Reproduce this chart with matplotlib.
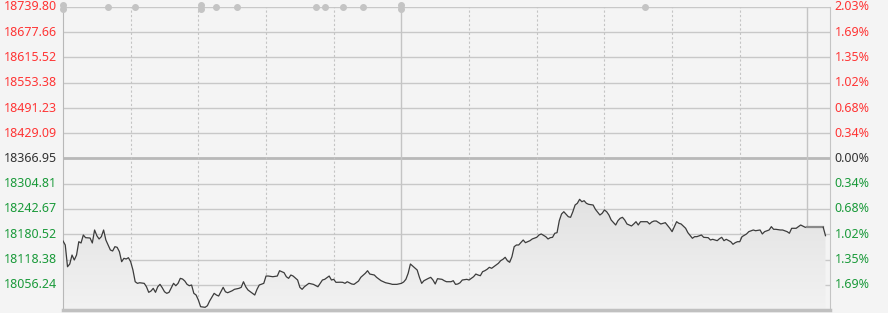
import matplotlib
matplotlib.use('Agg')
import matplotlib.pyplot as plt
import matplotlib.transforms as mtransforms
import numpy as np

# Hang Seng style intraday chart, trading minutes counted from 09:30 (lunch break removed)
prev_close = 18366.95
session_minutes = 340          # 09:30-12:00 + 13:00-16:10
auction_start = 330            # 16:00 closing auction

price_levels = [18739.80, 18677.66, 18615.52, 18553.38, 18491.23, 18429.09, 18366.95,
                18304.81, 18242.67, 18180.52, 18118.38, 18056.24, 17994.10]
pct_labels = ['2.03%', '1.69%', '1.35%', '1.02%', '0.68%', '0.34%', '0.00%',
              '0.34%', '0.68%', '1.02%', '1.35%', '1.69%']

minutes = [0, 1, 2, 3, 4, 5, 6, 7, 8, 9, 10, 12, 13, 14, 15, 16, 17, 18, 19, 20,
           21, 22, 23, 24, 25, 26, 27, 28, 29, 30, 31, 32, 33, 34, 36, 37, 38, 39, 40, 41,
           42, 43, 44, 45, 46, 47, 48, 49, 50, 51, 52, 53, 54, 55, 56, 57, 58, 59, 60, 61,
           63, 64, 65, 67, 68, 69, 71, 72, 73, 75, 76, 78, 79, 80, 81, 82, 84, 85, 86, 87,
           89, 90, 91, 93, 95, 96, 98, 99, 100, 101, 102, 104, 105, 106, 107, 109, 111, 113, 115, 116,
           118, 119, 120, 121, 123, 124, 125, 126, 128, 129, 130, 131, 132, 134, 135, 136, 138, 139, 141, 142,
           143, 145, 146, 148, 150, 151, 152, 153, 154, 155, 157, 158, 159, 160, 162, 163, 164, 165, 166, 168,
           169, 170, 172, 173, 174, 175, 176, 177, 179, 180, 182, 183, 184, 185, 186, 187, 188, 189, 190, 192,
           193, 194, 195, 196, 197, 198, 199, 200, 201, 202, 204, 205, 206, 207, 208, 210, 211, 212, 214, 215,
           216, 217, 218, 219, 220, 221, 222, 224, 225, 226, 227, 228, 229, 230, 231, 232, 233, 235, 236, 238,
           239, 240, 241, 242, 243, 245, 246, 247, 248, 249, 250, 252, 253, 254, 255, 256, 258, 259, 260, 261,
           262, 263, 265, 266, 267, 269, 270, 271, 272, 273, 274, 276, 277, 279, 280, 281, 283, 284, 286, 287,
           288, 290, 291, 292, 293, 294, 296, 297, 298, 299, 300, 301, 303, 304, 306, 307, 309, 310, 311, 313,
           314, 315, 316, 318, 319, 321, 322, 323, 325, 326, 327, 329, 330, 337, 338]
prices = [18163.9, 18154.1, 18100.6, 18107.3, 18129.4, 18117.1, 18129.4, 18162.2, 18159.0, 18178.7,
          18172.1, 18171.3, 18159.0, 18191.0, 18177.0, 18168.9, 18174.6, 18191.0, 18166.4, 18154.1,
          18141.8, 18139.3, 18149.9, 18148.4, 18137.6, 18112.9, 18121.3, 18119.6, 18122.8, 18112.9,
          18092.5, 18063.7, 18059.7, 18061.2, 18059.7, 18051.3, 18037.6, 18040.8, 18047.4, 18037.6,
          18051.3, 18057.2, 18048.9, 18039.0, 18035.1, 18037.6, 18048.9, 18059.7, 18053.8, 18059.7,
          18072.0, 18070.3, 18065.4, 18057.2, 18053.8, 18055.6, 18035.1, 18031.0, 18018.7, 18002.2,
          18000.7, 18004.6, 18016.3, 18035.1, 18031.0, 18028.5, 18049.9, 18039.0, 18036.6, 18041.5,
          18045.0, 18047.4, 18049.9, 18063.7, 18051.3, 18043.3, 18035.1, 18031.0, 18045.0, 18055.6,
          18059.7, 18077.7, 18077.7, 18076.0, 18077.7, 18090.8, 18085.9, 18076.0, 18072.0, 18080.2,
          18077.7, 18067.9, 18049.9, 18045.0, 18051.3, 18059.7, 18057.2, 18051.3, 18067.9, 18069.6,
          18077.7, 18067.9, 18069.6, 18062.2, 18062.5, 18062.2, 18059.7, 18063.7, 18058.1, 18057.2,
          18061.2, 18065.4, 18074.5, 18084.4, 18090.8, 18082.6, 18080.2, 18074.5, 18066.2, 18063.7,
          18061.2, 18058.8, 18057.2, 18057.2, 18059.7, 18063.0, 18069.6, 18084.4, 18107.3, 18102.4,
          18092.5, 18074.5, 18059.7, 18066.2, 18072.0, 18074.5, 18067.9, 18058.1, 18071.1, 18069.6,
          18066.2, 18063.7, 18063.7, 18066.2, 18057.2, 18058.1, 18061.2, 18067.9, 18069.6, 18067.9,
          18076.0, 18082.6, 18080.2, 18078.5, 18088.4, 18090.8, 18094.3, 18099.2, 18096.7, 18104.8,
          18109.0, 18115.4, 18118.8, 18123.8, 18115.4, 18111.5, 18125.2, 18149.9, 18154.1, 18154.1,
          18166.4, 18159.8, 18162.2, 18164.7, 18168.9, 18173.0, 18178.7, 18181.2, 18174.6, 18168.9,
          18172.1, 18173.0, 18182.9, 18184.4, 18214.0, 18230.4, 18236.0, 18223.7, 18222.2, 18236.0,
          18252.5, 18256.7, 18266.5, 18260.6, 18263.1, 18256.7, 18254.2, 18252.5, 18241.9, 18227.9,
          18232.1, 18240.2, 18236.0, 18227.9, 18215.6, 18203.3, 18213.9, 18219.8, 18222.2, 18215.6,
          18205.8, 18200.9, 18205.8, 18211.4, 18203.3, 18211.4, 18211.4, 18211.4, 18205.8, 18210.7,
          18213.1, 18213.1, 18205.8, 18207.5, 18209.0, 18195.2, 18186.9, 18199.2, 18211.4, 18207.5,
          18205.8, 18195.2, 18184.4, 18170.6, 18174.6, 18174.6, 18178.7, 18173.0, 18172.1, 18166.4,
          18168.1, 18164.7, 18169.6, 18173.0, 18164.7, 18168.1, 18162.2, 18155.8, 18159.8, 18162.2,
          18162.2, 18174.6, 18181.2, 18186.9, 18191.0, 18189.2, 18191.0, 18181.2, 18186.9, 18191.0,
          18199.2, 18192.7, 18192.7, 18191.0, 18191.0, 18186.9, 18183.0, 18195.2, 18195.2, 18199.2,
          18203.3, 18197.7, 18197.6, 18197.6, 18177.0]

# news markers along the top edge (minute, number of items)
news_minutes = [0, 20, 32, 61, 68, 77, 112, 116, 124, 133, 150, 258]
news_count = [2, 1, 1, 2, 1, 1, 1, 1, 1, 1, 2, 1]

bg = '#f4f4f4'
red = '#ff3535'
green = '#1a9a3a'
dark = '#333333'

fig = plt.figure(figsize=(8.88, 3.13), dpi=100, facecolor=bg)
ax = fig.add_axes([63 / 888, 3 / 313, 767 / 888, 303 / 313], facecolor=bg)
ymax, ymin = price_levels[0], price_levels[-1]
ax.set_xlim(0, session_minutes)
ax.set_ylim(ymin, ymax)

# horizontal grid
for lv in price_levels[:-1]:
    if lv == prev_close:
        ax.axhline(lv, color='#b8b8b8', lw=2.0, zorder=1)
    else:
        ax.axhline(lv, color='#c8c8c8', lw=1.0, zorder=1)

# vertical grid every 30 minutes, solid at lunch break and 16:00
for m in range(30, session_minutes, 30):
    if m in (150, 330):
        ax.axvline(m, color='#c4c4c4', lw=1.0, zorder=1)
    else:
        ax.axvline(m, color='#c4c4c4', lw=0.8, ls=(0, (2, 2)), zorder=1)

t = np.array(minutes)
p = np.array(prices)

# gradient fill under the line
poly = ax.fill_between(t, p, ymin, facecolor='none', edgecolor='none')
grad = np.linspace(0, 1, 256).reshape(-1, 1)
im = ax.imshow(grad, cmap=matplotlib.colors.LinearSegmentedColormap.from_list(
    'g', ['#f2f2f2', '#e2e2e2']), origin='lower', aspect='auto',
    extent=[0, session_minutes, ymin, p.max()], zorder=2)
im.set_clip_path(poly.get_paths()[0], transform=ax.transData)

main = t <= auction_start
ax.plot(t[main], p[main], color='#3c3c3c', lw=0.9, zorder=3)
auc = t >= auction_start
ax.plot(t[auc][:-1], p[auc][:-1], color='#8a8a8a', lw=1.6, zorder=3)
ax.plot(t[auc][-2:], p[auc][-2:], color='#3c3c3c', lw=0.9, zorder=3)

# news markers
for m, n in zip(news_minutes, news_count):
    offs = [0] if n == 1 else [-2.2, 2.2]
    for o in offs:
        tr = ax.transData + mtransforms.ScaledTranslation(0, o / 72 * 0.72, fig.dpi_scale_trans)
        ax.plot([m], [ymax], marker='o', ms=4, color='#c4c4c4', mec='#c4c4c4',
                transform=tr, clip_on=False, zorder=4)

# axis labels
font = dict(family=['Noto Sans', 'DejaVu Sans'], fontsize=9)
for lv, pl in zip(price_levels[:-1], pct_labels):
    c = red if lv > prev_close else (green if lv < prev_close else dark)
    ax.annotate(f'{lv:.2f}', xy=(0, lv), xycoords=('axes fraction', 'data'),
                xytext=(-4, 0), textcoords='offset points', ha='right', va='center',
                color=c, **font)
    ax.annotate(pl, xy=(1, lv), xycoords=('axes fraction', 'data'),
                xytext=(3.5, 0), textcoords='offset points', ha='left', va='center',
                color=c, **font)

ax.set_xticks([])
ax.set_yticks([])
for s in ['top']:
    ax.spines[s].set_visible(False)
ax.spines['left'].set_color('#b8b8b8')
ax.spines['right'].set_color('#c4c4c4')
ax.spines['bottom'].set_color('#c0c0c0')
ax.spines['bottom'].set_linewidth(2.5)

fig.savefig('out.png', dpi=100, facecolor=bg)
